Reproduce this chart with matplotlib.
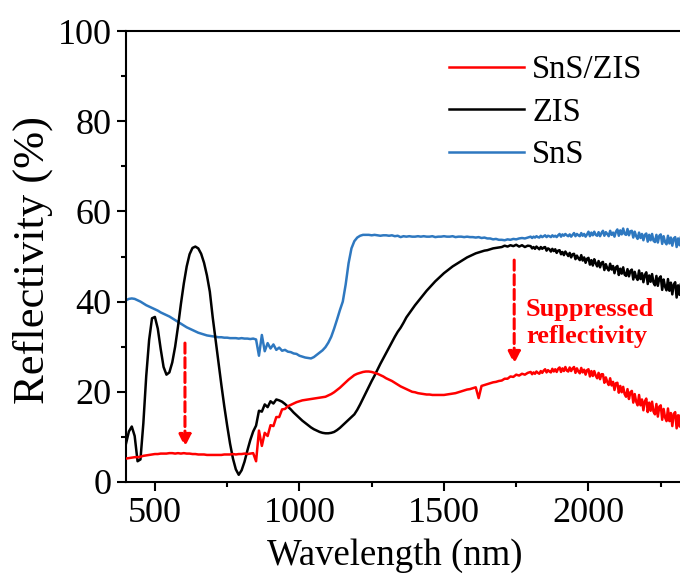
import numpy as np
import matplotlib
matplotlib.use("Agg")
import matplotlib.pyplot as plt

plt.rcParams['font.family'] = ['Liberation Serif', 'DejaVu Serif']

# wavelength grid (nm): 10 nm steps up to 1790, 5 nm steps in the noisy NIR part
wavelength = np.concatenate([np.arange(400, 1800, 10), np.arange(1800, 2351, 5)])

zis = [
    # 400-1790 nm (10 nm)
    8.5, 11.2, 12.3, 10.2, 4.6, 5.0, 13.0, 23.5, 31.5, 36.3,
    36.6, 34.0, 29.5, 25.5, 23.8, 24.3, 26.5, 30.0, 34.5, 39.5,
    44.0, 47.8, 50.5, 51.9, 52.2, 51.8, 50.6, 48.6, 45.8, 42.2,
    36.5, 31.5, 26.5, 21.5, 16.8, 12.5, 8.5, 5.2, 2.8, 1.6,
    2.6, 4.5, 7.0, 9.3, 11.2, 12.5, 15.8, 15.6, 17.2, 16.6,
    17.9, 17.4, 18.3, 18.1, 17.8, 17.3, 16.7, 16.1, 15.4, 14.8,
    14.2, 13.6, 13.1, 12.6, 12.1, 11.7, 11.4, 11.1, 10.9, 10.8,
    10.8, 10.9, 11.1, 11.5, 12.0, 12.6, 13.2, 13.8, 14.4, 15.0,
    16.0, 17.2, 18.5, 19.8, 21.1, 22.4, 23.6, 24.9, 26.2, 27.4,
    28.6, 29.8, 31.0, 32.2, 33.3, 34.2, 35.3, 36.5, 37.4, 38.3,
    39.2, 40.0, 40.8, 41.6, 42.4, 43.1, 43.8, 44.5, 45.1, 45.7,
    46.3, 46.8, 47.3, 47.8, 48.2, 48.6, 49.0, 49.4, 49.8, 50.1,
    50.4, 50.7, 50.9, 51.1, 51.3, 51.4, 51.6, 51.8, 51.9, 52.0,
    52.1, 52.4, 52.2, 52.5, 52.3, 52.6, 52.2, 52.5, 52.1, 52.4,
    # 1800-2350 nm (5 nm)
    52.3, 51.8, 52.1, 51.7, 52.2, 51.9, 51.6, 52.1, 51.7, 52.0,
    52.1, 51.3, 51.8, 51.6, 51.1, 51.7, 51.2, 51.6, 50.8, 51.3,
    51.4, 50.5, 51.0, 50.3, 51.1, 50.6, 50.1, 50.8, 49.8, 50.5,
    50.6, 49.4, 50.2, 49.6, 49.2, 50.3, 49.1, 49.8, 48.6, 49.5,
    49.7, 48.2, 49.2, 48.0, 49.4, 48.5, 47.8, 49.0, 47.6, 48.6,
    48.8, 47.0, 48.3, 47.4, 46.9, 48.4, 47.1, 47.9, 46.3, 47.6,
    47.9, 45.9, 47.3, 46.2, 47.6, 46.0, 45.7, 47.2, 45.6, 46.8,
    47.1, 44.9, 46.6, 45.4, 44.8, 46.9, 45.0, 46.3, 44.3, 45.9,
    46.5, 43.9, 45.8, 44.4, 46.1, 44.2, 43.6, 45.7, 43.5, 45.2,
    45.6, 42.6, 44.9, 43.3, 42.5, 45.0, 42.4, 44.2, 41.6, 43.8,
    44.3, 40.9, 43.6, 41.5, 44.0, 41.3, 40.6, 43.3, 40.4, 42.9, 40.1,
]

sns_ = [
    # 400-1790 nm (10 nm)
    40.3, 40.6, 40.7, 40.6, 40.3, 40.0, 39.6, 39.2, 38.9, 38.6,
    38.3, 38.0, 37.6, 37.3, 37.0, 36.7, 36.3, 35.9, 35.5, 35.1,
    34.7, 34.3, 34.0, 33.7, 33.4, 33.1, 32.9, 32.7, 32.5, 32.4,
    32.3, 32.2, 32.1, 32.1, 32.0, 32.0, 31.9, 31.9, 31.9, 31.8,
    31.9, 31.8, 31.8, 31.7, 31.8, 31.6, 28.0, 32.6, 29.0, 30.8,
    29.6, 30.5, 29.3, 29.8, 29.1, 29.3, 28.9, 28.8, 28.5, 28.4,
    28.0, 27.8, 27.6, 27.5, 27.4, 27.7, 28.2, 28.7, 29.2, 29.9,
    30.9, 32.2, 34.0, 36.0, 38.1, 40.0, 43.8, 48.5, 51.8, 53.4,
    54.2, 54.6, 54.8, 54.8, 54.8, 54.7, 54.8, 54.7, 54.6, 54.7,
    54.7, 54.6, 54.7, 54.5, 54.6, 54.3, 54.5, 54.4, 54.5, 54.4,
    54.4, 54.5, 54.4, 54.5, 54.4, 54.4, 54.5, 54.3, 54.4, 54.4,
    54.5, 54.4, 54.4, 54.5, 54.3, 54.4, 54.4, 54.3, 54.4, 54.3,
    54.3, 54.2, 54.3, 54.1, 54.2, 54.0, 54.0, 53.8, 53.9, 53.7,
    53.7, 53.6, 53.8, 53.7, 53.9, 53.8, 54.0, 54.1, 54.0, 54.2,
    # 1800-2350 nm (5 nm)
    54.4, 54.1, 54.4, 54.2, 54.5, 54.3, 54.2, 54.6, 54.3, 54.5,
    54.7, 54.3, 54.6, 54.5, 54.3, 54.7, 54.4, 54.6, 54.3, 54.7,
    55.0, 54.4, 54.9, 54.6, 55.0, 54.7, 54.5, 54.9, 54.4, 54.8,
    55.2, 54.5, 55.0, 54.7, 54.5, 55.2, 54.6, 55.0, 54.4, 54.9,
    55.5, 54.5, 55.3, 54.7, 55.5, 54.8, 54.6, 55.4, 54.5, 55.2,
    55.7, 54.6, 55.4, 55.0, 54.5, 55.7, 54.8, 55.3, 54.4, 55.5,
    56.0, 54.6, 55.8, 54.9, 56.2, 55.0, 54.8, 56.1, 54.7, 55.6,
    55.7, 54.2, 55.5, 54.5, 53.9, 55.3, 54.1, 55.0, 53.6, 54.8,
    55.1, 53.3, 54.8, 53.6, 55.0, 53.5, 53.2, 54.8, 53.1, 54.6,
    54.9, 52.8, 54.5, 53.2, 52.7, 54.6, 52.9, 54.2, 52.4, 54.0,
    54.3, 52.1, 54.0, 52.5, 54.4, 52.3, 51.9, 54.0, 52.0, 53.8, 51.8,
]

sns_zis = [
    # 400-1790 nm (10 nm)
    5.2, 5.3, 5.4, 5.5, 5.5, 5.6, 5.8, 5.9, 6.0, 6.1,
    6.2, 6.2, 6.3, 6.3, 6.3, 6.4, 6.4, 6.3, 6.4, 6.3,
    6.4, 6.3, 6.3, 6.2, 6.2, 6.1, 6.1, 6.1, 6.0, 6.0,
    6.0, 6.0, 6.0, 6.0, 6.1, 6.1, 6.1, 6.2, 6.1, 6.2,
    6.2, 6.3, 6.2, 6.3, 6.4, 4.6, 11.4, 8.0, 10.9, 10.2,
    12.6, 12.4, 14.4, 14.4, 16.1, 16.2, 16.8, 17.1, 17.4, 17.7,
    17.9, 18.1, 18.2, 18.3, 18.4, 18.5, 18.6, 18.7, 18.8, 18.9,
    19.2, 19.5, 19.9, 20.4, 20.9, 21.5, 22.1, 22.7, 23.2, 23.7,
    24.0, 24.2, 24.4, 24.5, 24.5, 24.4, 24.2, 24.0, 23.7, 23.4,
    23.0, 22.7, 22.4, 22.0, 21.6, 21.2, 20.9, 20.6, 20.3, 20.0,
    19.9, 19.7, 19.6, 19.5, 19.4, 19.4, 19.3, 19.3, 19.3, 19.3,
    19.3, 19.4, 19.5, 19.6, 19.7, 19.9, 20.1, 20.3, 20.5, 20.6,
    20.8, 21.0, 18.6, 21.3, 21.5, 21.7, 21.9, 22.1, 22.2, 22.4,
    22.5, 22.9, 22.9, 23.4, 23.3, 23.8, 23.6, 24.0, 23.8, 24.2,
    # 1800-2350 nm (5 nm)
    24.4, 23.9, 24.3, 24.0, 24.5, 24.2, 24.0, 24.6, 24.2, 24.7,
    25.0, 24.3, 24.8, 24.5, 24.3, 25.1, 24.5, 25.0, 24.4, 25.1,
    25.4, 24.4, 25.2, 24.6, 25.5, 24.7, 24.5, 25.4, 24.6, 25.2,
    25.5, 24.2, 25.2, 24.5, 24.1, 25.3, 24.3, 24.9, 23.8, 24.8,
    25.0, 23.4, 24.6, 23.5, 24.6, 23.6, 23.0, 24.2, 22.8, 23.9,
    23.9, 22.0, 23.2, 22.2, 21.5, 23.0, 21.4, 22.2, 20.4, 21.9,
    22.0, 19.8, 21.3, 19.9, 21.1, 19.5, 18.9, 20.6, 18.4, 19.9,
    20.2, 17.6, 19.5, 17.8, 17.0, 19.3, 17.0, 18.3, 15.9, 17.9,
    18.5, 15.5, 17.6, 15.8, 17.8, 15.6, 15.0, 17.3, 14.5, 16.7,
    17.0, 13.8, 16.2, 14.3, 13.5, 16.3, 13.5, 15.3, 12.4, 15.1,
    15.5, 11.9, 14.8, 12.3, 15.0, 11.9, 11.4, 14.2, 11.0, 13.7, 10.6,
]

labels = ["SnS/ZIS", "ZIS", "SnS"]
colors = ["#FF0000", "#000000", "#2E78C0"]
annotation = "Suppressed\nreflectivity"
arrow_x = [604, 1743]
arrow_top = [30.8, 49.2]
arrow_tip = [7.8, 26.2]

fig = plt.figure(figsize=(6.8, 5.75), dpi=100)
ax = fig.add_axes([126/680, 93/575, 607/680, 451/575])

lw = 1.8
ax.plot(wavelength, sns_zis, color=colors[0], lw=lw, label=labels[0], zorder=4)
ax.plot(wavelength, zis, color=colors[1], lw=lw, label=labels[1], zorder=3)
ax.plot(wavelength, sns_, color=colors[2], lw=lw, label=labels[2], zorder=2)

ax.set_xlim(400, 2500)
ax.set_ylim(0, 100)
ax.set_xticks([500, 1000, 1500, 2000])
ax.set_xticks([750, 1250, 1750, 2250], minor=True)
ax.set_yticks([0, 20, 40, 60, 80, 100])
ax.set_yticks([10, 30, 50, 70, 90], minor=True)

for s in ax.spines.values():
    s.set_linewidth(1.5)
ax.tick_params(which='major', direction='out', length=6.5, width=1.5,
               labelsize=26, pad=4)
ax.tick_params(which='minor', direction='out', length=3.3, width=1.5)

ax.set_xlabel("Wavelength (nm)", fontsize=26.5)
ax.set_ylabel("Reflectivity (%)", fontsize=32)
ax.xaxis.set_label_coords(0.443, -0.124)
ax.yaxis.set_label_coords(-0.121, 0.492)

for xa, yt, yh in zip(arrow_x, arrow_top, arrow_tip):
    ax.annotate("", xy=(xa, yh), xytext=(xa, yt),
                arrowprops=dict(arrowstyle="-|>", color="red", lw=2.2,
                                linestyle=(0, (3.3, 1.5)), mutation_scale=18,
                                shrinkA=0, shrinkB=0))

ax.text(1784, 35.3, annotation, color="red", fontsize=19, fontweight="bold",
        ha="left", va="center", linespacing=1.2)

leg = ax.legend(loc="upper left", bbox_to_anchor=(449/680, 1 - 55/575),
                bbox_transform=fig.transFigure, frameon=False, fontsize=23.5,
                borderpad=0, borderaxespad=0, handlelength=2.3,
                handletextpad=0.25, labelspacing=0.36)

fig.savefig("out.png", dpi=100)
